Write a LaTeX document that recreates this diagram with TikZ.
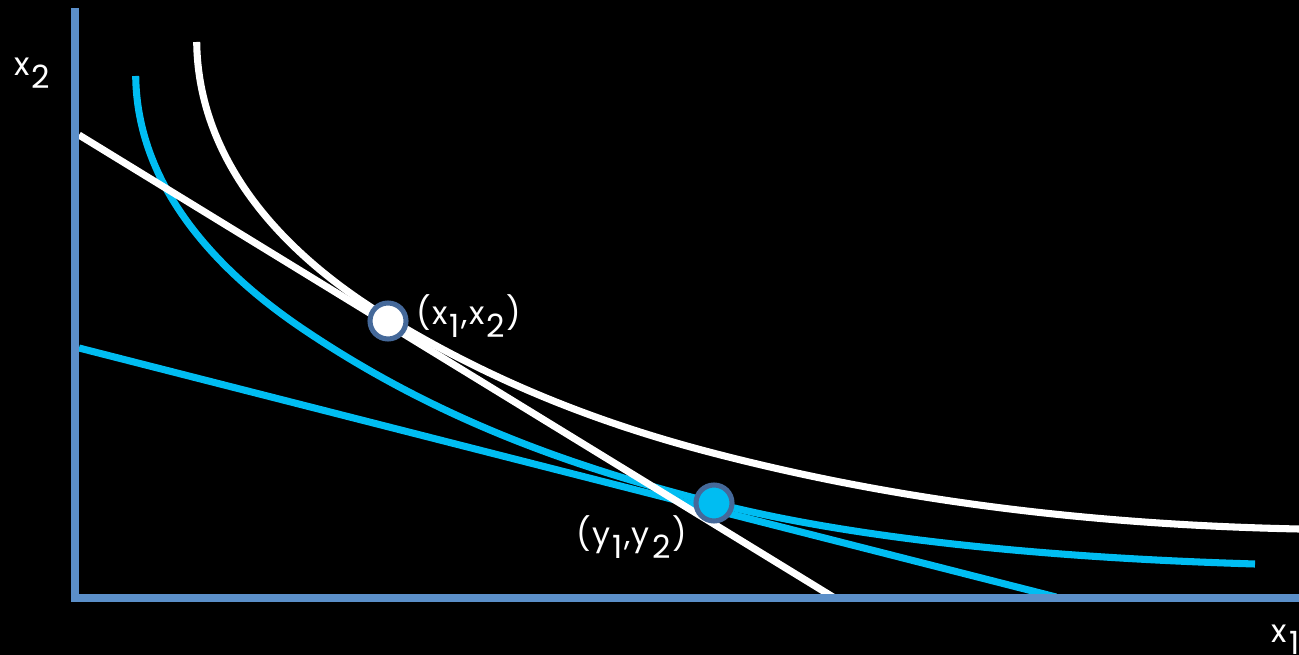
\documentclass[tikz,border=0pt]{standalone}
\usepackage{fontspec}
\setmainfont{Poppins}[LetterSpace=4]
\definecolor{axisblue}{HTML}{5B8FC9}
\definecolor{cyanline}{HTML}{00BDF2}
\definecolor{ringblue}{HTML}{45699A}
\newcommand\lowsub[1]{\hspace{1.8pt}\raisebox{-9.5pt}{#1}\hspace{1.2pt}}
\tikzset{
  axisline/.style={draw=axisblue, line width=6pt, line join=miter},
  whitecurve/.style={draw=white, line width=5.3pt},
  bluecurve/.style={draw=cyanline, line width=5.3pt},
  dotstyle/.style={circle, draw=ringblue, line width=3.8pt, minimum size=27pt, inner sep=0pt},
  lbl/.style={text=white, font=\fontsize{24}{28}\selectfont, inner sep=0pt, anchor=base west}
}
\begin{document}
\begin{tikzpicture}[x=0.75pt, y=-0.75pt]
\fill[black] (0,0) rectangle (1299,655);
\useasboundingbox (0,0) rectangle (1299,655);
% named coordinates
\coordinate (wl0) at (79,135);
\coordinate (wl1) at (833,597);
\coordinate (bl0) at (79,348);
\coordinate (bl1) at (1056,597);
\coordinate (wc0) at (196.7,42);
\coordinate (wc1) at (388,318);
\coordinate (wc2) at (713,453);
\coordinate (wc3) at (1299,529);
\coordinate (bc0) at (135.7,76);
\coordinate (bc1) at (300,327);
\coordinate (bc2) at (714,503);
\coordinate (bc3) at (1255,564);
% blue indifference curve
\draw[bluecurve] (bc0) .. controls (137,185) and (215,269) .. (bc1)
  .. controls (438,420.8) and (576,467.9) .. (bc2)
  .. controls (870,542.7) and (1075,558.6) .. (bc3);
% blue budget line
\draw[bluecurve] (bl0) -- (bl1);
% white indifference curve
\draw[whitecurve] (wc0) .. controls (198,150) and (268,245) .. (wc1)
  .. controls (496,384) and (605,425) .. (wc2)
  .. controls (908,503.7) and (1104,525) .. (wc3);
% white budget line
\draw[whitecurve] (wl0) -- (wl1);
% axes
\coordinate (ytop) at (75,8);
\coordinate (origin) at (75,597.5);
\coordinate (xend) at (1299,597.5);
\draw[axisline] (ytop) -- (origin) -- (xend);
% points
\node[dotstyle, fill=white] (px) at (388,321) {};
\node[dotstyle, fill=cyanline] (py) at (714,503) {};
% labels
\node[lbl] (lx2) at (14,76) {x\lowsub{2}};
\node[lbl] (lx1) at (1271,642) {x\lowsub{1}};
\node[lbl] (lpx) at (416,325) {(x\lowsub{1},x\lowsub{2})};
\node[lbl] (lpy) at (576,546) {(y\lowsub{1},y\lowsub{2})};
\end{tikzpicture}
\end{document}
